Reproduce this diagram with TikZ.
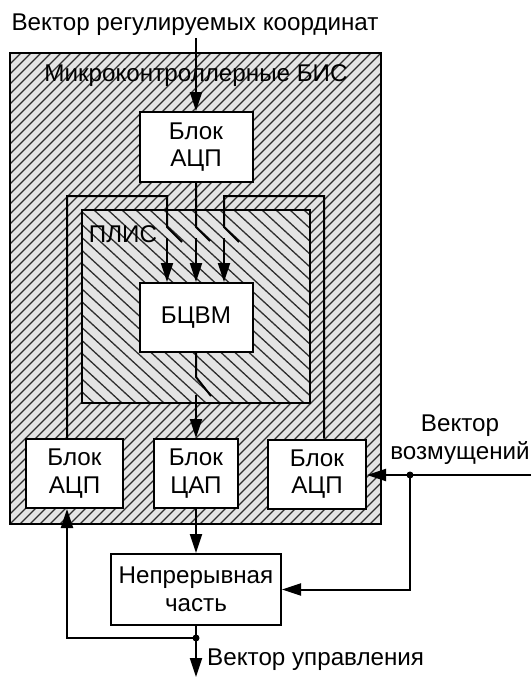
\documentclass[tikz,border=0pt]{standalone}
\usepackage{fontspec}
\setmainfont{Liberation Sans}
\usetikzlibrary{arrows.meta}
\definecolor{hatchbg}{HTML}{E4E4E4}
\begin{document}
\begin{tikzpicture}[x=1pt,y=-1pt,
  txt/.style={font=\fontsize{24.2}{27.8}\selectfont},
  box/.style={txt,draw,line width=2pt,fill=white,inner sep=0pt,align=center},
  wire/.style={line width=2pt},
  arr/.style={wire,-{Triangle[length=19pt,width=12pt]}},
  lbl/.style={txt,inner sep=0pt,align=center},
  hatch/.style={line width=1.3pt,draw=black!82},
  dot/.style={circle,fill,inner sep=0pt,minimum size=7pt}]
\useasboundingbox (0,0) rectangle (531,677);
% outer hatched area
\fill[hatchbg] (10,53) rectangle (381,524);
\begin{scope}
  \clip (10,53) rectangle (381,524);
  \foreach \c in {-470,-460,...,390} \draw[hatch] (\c,524) -- ++(471,-471);
\end{scope}
\draw[line width=2.5pt] (10,53) rectangle (381,524);
% PLIS area
\fill[hatchbg] (82,210) rectangle (310,403);
\begin{scope}
  \clip (82,210) rectangle (310,403);
  \foreach \c in {-200,-186,...,320} \draw[hatch] (\c,210) -- ++(210,193);
\end{scope}
\draw[wire] (82,210) rectangle (310,403);
% labels
\node[lbl] (tTop) at (195,25) {Вектор регулируемых координат};
\node[lbl] (tMC) at (196,76) {Микроконтроллерные БИС};
\node[lbl] (tPL) at (123,234) {ПЛИС};
\node[lbl] (tDist) at (460,440) {Вектор\\возмущений};
\node[lbl,anchor=west] (tOut) at (207,660) {Вектор управления};
% blocks
\node[box,minimum width=113pt,minimum height=70pt] (adcT) at (196,147) {Блок\\АЦП};
\node[box,minimum width=113pt,minimum height=69pt] (cpu) at (196,317.5) {БЦВМ};
\node[box,minimum width=97pt,minimum height=69pt] (adcL) at (74.5,473.5) {Блок\\АЦП};
\node[box,minimum width=84pt,minimum height=69pt] (dac) at (196,473.5) {Блок\\ЦАП};
\node[box,minimum width=98pt,minimum height=69pt] (adcR) at (317,474) {Блок\\АЦП};
\node[box,minimum width=170pt,minimum height=71pt] (plant) at (196,589.5) {Непрерывная\\часть};
% switch coordinates
\coordinate (fL) at (67,196);
\coordinate (fR) at (324,196);
\coordinate (sL1) at (167,227); \coordinate (sL2) at (182,242); \coordinate (sL3) at (167,238);
\coordinate (sM1) at (196,227); \coordinate (sM2) at (210,241); \coordinate (sM3) at (196,238);
\coordinate (sR1) at (224,227); \coordinate (sR2) at (239,242); \coordinate (sR3) at (224,238);
\coordinate (sB1) at (196,377); \coordinate (sB2) at (211,396); \coordinate (sB3) at (196,395);
\coordinate (inT) at (196,38);
\coordinate (inR) at (531,475);
\coordinate (out) at (196,677);
% frame wires
\draw[wire] (adcL.north -| fL) -- (fL) -- (sL1 |- fL) -- (sL1) -- (sL2);
\draw[arr] (sL3) -- (sL3 |- cpu.north);
\draw[wire] (adcR.north -| fR) -- (fR) -- (sR1 |- fR) -- (sR1) -- (sR2);
\draw[arr] (sR3) -- (sR3 |- cpu.north);
\draw[wire] (adcT.south) -- (sM1) -- (sM2);
\draw[arr] (sM3) -- (cpu.north);
\draw[wire] (cpu.south) -- (sB1) -- (sB2);
\draw[arr] (sB3) -- (dac.north);
% external connections
\draw[arr] (inT) -- (adcT.north);
\draw[arr] (dac.south) -- (plant.north);
\node[dot] (dR) at (410,475) {};
\draw[arr] (inR) -- (inR -| adcR.east);
\draw[arr] (dR.center) |- (plant.east);
\node[dot] (dO) at (196,638) {};
\draw[wire] (plant.south) -- (dO.center);
\draw[arr] (dO.center) -- (out);
\draw[arr] (dO.center) -| (fL |- adcL.south);
\end{tikzpicture}
\end{document}
